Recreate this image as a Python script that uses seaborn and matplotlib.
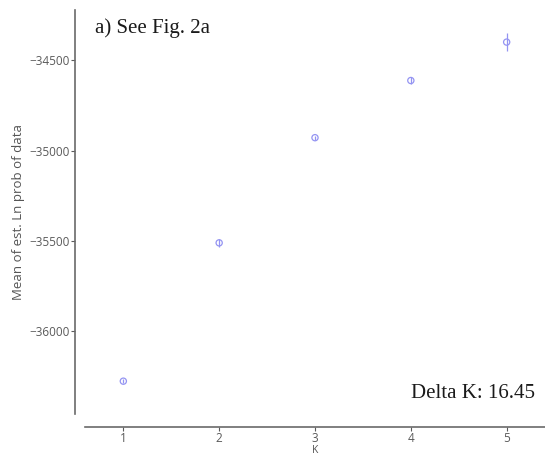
import numpy as np
import pandas as pd
import matplotlib
matplotlib.use("Agg")
import matplotlib.pyplot as plt
import seaborn as sns

# Mean estimated Ln probability of the data for each K, with standard deviation
k_values = [1, 2, 3, 4, 5]
mean_ln_prob = [-36278, -35511, -34928, -34611, -34398]
sd_ln_prob = [10, 22, 12, 22, 50]
x_ticks = [1, 2, 3, 4, 5]
y_ticks = [-36000, -35500, -35000, -34500]
delta_k = 16.45

df = pd.DataFrame({"K": k_values, "mean": mean_ln_prob, "sd": sd_ln_prob})

sns.set_theme(style="ticks")
plt.rcParams["font.family"] = ["Open Sans", "DejaVu Sans"]

fig = plt.figure(figsize=(5.45, 4.57), dpi=100)
ax = fig.add_axes([85 / 545, 1 - 414 / 457, 1 - 85 / 545, (414 - 10) / 457])

point_color = "#9494f2"
ax.errorbar(df["K"], df["mean"], yerr=df["sd"], fmt="none",
            ecolor=point_color, elinewidth=0.9, capsize=0, zorder=2)
sns.scatterplot(data=df, x="K", y="mean", ax=ax, marker="o", s=20,
                facecolor="none", edgecolor=point_color, linewidth=0.9,
                zorder=3)

ax.set_xlim(0.6, 5.4)
ax.set_ylim(-36460, -34220)
ax.set_xticks(x_ticks)
ax.set_yticks(y_ticks)
ax.set_xticklabels([str(v) for v in x_ticks])
ax.set_yticklabels([f"\u2212{abs(v)}" for v in y_ticks])

sns.despine(ax=ax, offset={"left": 7, "bottom": 9})
for side in ("left", "bottom"):
    ax.spines[side].set_color("#6a6a6a")
    ax.spines[side].set_linewidth(1.2)
ax.tick_params(axis="both", labelsize=8.5, colors="#5a5a5a", length=3,
               width=0.8, pad=1)

ax.set_xlabel("K", fontsize=7.5, color="#555555", labelpad=0)
ax.set_ylabel("Mean of est. Ln prob of data", fontsize=9.5, color="#555555",
              labelpad=3)

serif = ["Liberation Serif", "DejaVu Serif"]
ax.text(0.022, 0.955, "a) See Fig. 2a", transform=ax.transAxes,
        fontsize=15, family=serif, color="#1a1a1a", ha="left", va="center")
ax.text(0.978, 0.05, f"Delta K: {delta_k}", transform=ax.transAxes,
        fontsize=15, family=serif, color="#1a1a1a", ha="right", va="center")

fig.savefig("out.png", dpi=100)
